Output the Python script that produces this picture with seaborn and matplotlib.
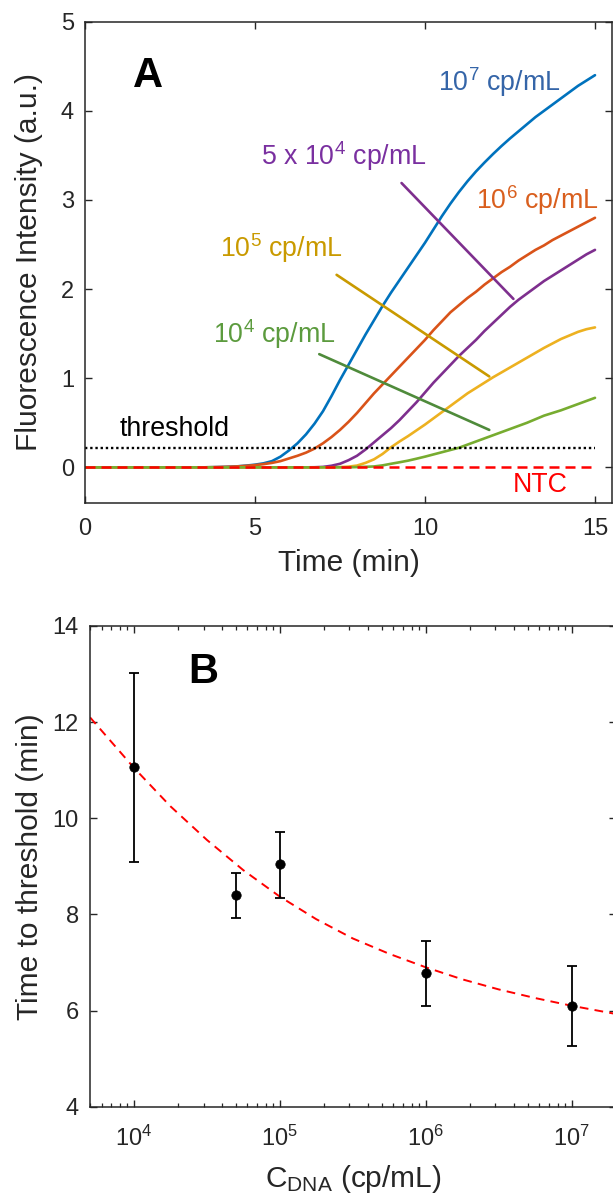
import numpy as np
import pandas as pd
import matplotlib
matplotlib.use("Agg")
import matplotlib.pyplot as plt
import seaborn as sns
from matplotlib.ticker import LogLocator, FixedLocator, NullFormatter

# ---------------- data: panel A (fluorescence vs time) ----------------
time_min = [0.0, 0.25, 0.5, 0.75, 1.0, 1.25, 1.5, 1.75, 2.0, 2.25, 2.5, 2.75,
            3.0, 3.25, 3.5, 3.75, 4.0, 4.25, 4.5, 4.75, 5.0, 5.25, 5.5, 5.75,
            6.0, 6.25, 6.5, 6.75, 7.0, 7.25, 7.5, 7.75, 8.0, 8.25, 8.5, 8.75,
            9.0, 9.25, 9.5, 9.75, 10.0, 10.25, 10.5, 10.75, 11.0, 11.25, 11.5,
            11.75, 12.0, 12.25, 12.5, 12.75, 13.0, 13.25, 13.5, 13.75, 14.0,
            14.25, 14.5, 14.75, 15.0]

f_1e7 = [0, 0, 0, 0, 0, 0, 0, 0, 0, 0, 0, 0, 0, 0, 0,
         0.002, 0.004, 0.007, 0.012, 0.02, 0.03, 0.045, 0.07, 0.12, 0.19, 0.27,
         0.37, 0.49, 0.63, 0.80, 0.98, 1.15, 1.32, 1.49, 1.65, 1.81, 1.96, 2.10,
         2.24, 2.38, 2.52, 2.67, 2.82, 2.96, 3.09, 3.21, 3.32, 3.42, 3.515, 3.605,
         3.69, 3.77, 3.85, 3.93, 4.00, 4.07, 4.14, 4.21, 4.28, 4.34, 4.40]
f_1e6 = [0, 0, 0, 0, 0, 0, 0, 0, 0, 0, 0, 0, 0, 0, 0,
         0.002, 0.004, 0.007, 0.011, 0.017, 0.025, 0.036, 0.05, 0.07, 0.10, 0.13,
         0.165, 0.21, 0.27, 0.34, 0.42, 0.51, 0.61, 0.72, 0.83, 0.93, 1.03, 1.13,
         1.23, 1.33, 1.43, 1.54, 1.64, 1.74, 1.82, 1.90, 1.97, 2.05, 2.12, 2.19,
         2.25, 2.32, 2.38, 2.44, 2.49, 2.55, 2.60, 2.65, 2.70, 2.75, 2.80]
f_5e4 = [0, 0, 0, 0, 0, 0, 0, 0, 0, 0, 0, 0, 0, 0, 0, 0, 0, 0, 0, 0, 0, 0, 0, 0,
         0, 0, 0,
         0.001, 0.005, 0.018, 0.04, 0.08, 0.13, 0.20, 0.28, 0.36, 0.44, 0.53,
         0.63, 0.73, 0.84, 0.95, 1.05, 1.15, 1.25, 1.34, 1.43, 1.53, 1.62, 1.71,
         1.80, 1.88, 1.95, 2.02, 2.09, 2.15, 2.21, 2.27, 2.33, 2.39, 2.44]
f_1e5 = [0, 0, 0, 0, 0, 0, 0, 0, 0, 0, 0, 0, 0, 0, 0, 0, 0, 0, 0, 0, 0, 0, 0, 0,
         0, 0, 0, 0, 0, 0,
         0.003, 0.008, 0.02, 0.05, 0.09, 0.15, 0.225, 0.29, 0.35, 0.415, 0.48,
         0.55, 0.62, 0.69, 0.76, 0.83, 0.89, 0.95, 1.01, 1.065, 1.12, 1.175,
         1.23, 1.285, 1.34, 1.39, 1.44, 1.48, 1.52, 1.55, 1.57]
f_1e4 = [0, 0, 0, 0, 0, 0, 0, 0, 0, 0, 0, 0, 0, 0, 0, 0, 0, 0, 0, 0, 0, 0, 0, 0,
         0, 0, 0, 0, 0, 0, 0, 0,
         0.003, 0.006, 0.01, 0.022, 0.04, 0.057, 0.075, 0.097, 0.12, 0.145,
         0.17, 0.195, 0.22, 0.255, 0.29, 0.325, 0.36, 0.395, 0.43, 0.465, 0.50,
         0.54, 0.58, 0.61, 0.64, 0.675, 0.71, 0.745, 0.78]

series_names = ["1e7", "1e6", "5e4", "1e5", "1e4"]
series_colors = ["#0072BD", "#D95319", "#7E2F8E", "#EDB120", "#77AC30"]

threshold_value = 0.22
ntc_value = 0.0
line_span = [0.0, 15.0]

# pointer lines (start, end) in data coordinates
ptr_5e4_x = [9.31, 12.60]
ptr_5e4_y = [3.19, 1.89]
ptr_1e5_x = [7.40, 11.89]
ptr_1e5_y = [2.16, 1.02]
ptr_1e4_x = [6.89, 11.89]
ptr_1e4_y = [1.27, 0.42]

# ---------------- data: panel B (time to threshold) ----------------
conc = [1e4, 5e4, 1e5, 1e6, 1e7]
ttt = [11.07, 8.40, 9.04, 6.79, 6.10]
ttt_low = [9.09, 7.92, 8.34, 6.10, 5.26]
ttt_high = [13.03, 8.87, 9.71, 7.44, 6.92]

fit_log_conc = [3.699, 4.0, 4.25, 4.5, 4.75, 5.0, 5.25, 5.5, 5.75, 6.0, 6.25,
                6.5, 6.75, 7.0, 7.301]
fit_ttt = [12.10, 11.05, 10.25, 9.55, 8.92, 8.37, 7.90, 7.50, 7.18, 6.90, 6.65,
           6.44, 6.26, 6.10, 5.93]

# ---------------- style ----------------
sns.set_style("ticks")
plt.rcParams["font.family"] = ["Liberation Sans", "DejaVu Sans"]
plt.rcParams["mathtext.fontset"] = "custom"
plt.rcParams["mathtext.rm"] = "Liberation Sans"
plt.rcParams["mathtext.it"] = "Liberation Sans:italic"
plt.rcParams["mathtext.bf"] = "Liberation Sans:bold"

AX_COLOR = "#262626"
W, H = 613, 1194
fig = plt.figure(figsize=(W / 100, H / 100), dpi=100)
fig.patch.set_facecolor("white")

axA = fig.add_axes([85 / W, 1 - 503 / H, (612 - 85) / W, (503 - 21.7) / H])
axB = fig.add_axes([90 / W, 1 - 1106.7 / H, (615.6 - 90) / W, (1106.7 - 626) / H])

# ---------------- panel A ----------------
rows = []
for name, vals in zip(series_names, [f_1e7, f_1e6, f_5e4, f_1e5, f_1e4]):
    for t, v in zip(time_min, vals):
        rows.append({"time": t, "value": v, "series": name})
dfA = pd.DataFrame(rows)

sns.lineplot(data=dfA, x="time", y="value", hue="series", hue_order=series_names,
             palette=dict(zip(series_names, series_colors)), linewidth=1.9,
             legend=False, ax=axA, sort=False, estimator=None)

sns.lineplot(x=line_span, y=[threshold_value, threshold_value], ax=axA,
             color="black", linewidth=1.7, linestyle=(0, (1, 1.2)))
sns.lineplot(x=line_span, y=[ntc_value, ntc_value], ax=axA,
             color="#FF0000", linewidth=1.8, linestyle=(0, (4, 2.4)))

sns.lineplot(x=ptr_5e4_x, y=ptr_5e4_y, ax=axA, color="#7E2F8E", linewidth=1.9)
sns.lineplot(x=ptr_1e5_x, y=ptr_1e5_y, ax=axA, color="#C99A00", linewidth=1.9)
sns.lineplot(x=ptr_1e4_x, y=ptr_1e4_y, ax=axA, color="#4F8B3B", linewidth=1.9)

ann = 19.3
axA.text(12.2, 4.32, "$10^{7}$ cp/mL", color="#3565A8", fontsize=ann, ha="center", va="center")
axA.text(13.3, 3.0, "$10^{6}$ cp/mL", color="#D95F1E", fontsize=ann, ha="center", va="center")
axA.text(7.6, 3.49, "5 x $10^{4}$ cp/mL", color="#7A30A0", fontsize=ann, ha="center", va="center")
axA.text(5.78, 2.46, "$10^{5}$ cp/mL", color="#C99A00", fontsize=ann, ha="center", va="center")
axA.text(5.58, 1.49, "$10^{4}$ cp/mL", color="#5C9B3E", fontsize=ann, ha="center", va="center")
axA.text(2.65, 0.43, "threshold", color="black", fontsize=ann, ha="center", va="center")
axA.text(13.4, -0.2, "NTC", color="#FF0000", fontsize=ann, ha="center", va="center")
axA.text(1.85, 4.39, "A", color="black", fontsize=30, fontweight="bold", ha="center", va="center")

axA.set_xlim(0, 15.5)
axA.set_ylim(-0.4, 5)
axA.xaxis.set_major_locator(FixedLocator([0, 5, 10, 15]))
axA.yaxis.set_major_locator(FixedLocator([0, 1, 2, 3, 4, 5]))
axA.set_xlabel("Time (min)", fontsize=21.5, labelpad=7)
axA.set_ylabel("Fluorescence Intensity (a.u.)", fontsize=21.5, labelpad=12.5)

# ---------------- panel B ----------------
dfB = pd.DataFrame({"conc": conc, "ttt": ttt})
fit_df = pd.DataFrame({"conc": [10 ** v for v in fit_log_conc], "ttt": fit_ttt})

sns.lineplot(data=fit_df, x="conc", y="ttt", ax=axB, color="#FF0000",
             linewidth=1.4, linestyle=(0, (4.5, 3.2)), sort=False, estimator=None)
yerr = np.array([np.array(ttt) - np.array(ttt_low), np.array(ttt_high) - np.array(ttt)])
axB.errorbar(conc, ttt, yerr=yerr, fmt="none", ecolor="black", elinewidth=1.3,
             capsize=3.3, capthick=1.3)
sns.scatterplot(data=dfB, x="conc", y="ttt", ax=axB, color="black", s=46,
                edgecolor="black", linewidth=0.5, zorder=5)

axB.text(3e4, 13.05, "B", color="black", fontsize=30, fontweight="bold", ha="center", va="center")

axB.set_xscale("log")
axB.set_xlim(5e3, 2e7)
axB.set_ylim(4, 14)
axB.xaxis.set_major_locator(LogLocator(base=10, numticks=10))
axB.xaxis.set_minor_locator(LogLocator(base=10, subs=np.arange(2, 10), numticks=20))
axB.xaxis.set_minor_formatter(NullFormatter())
axB.yaxis.set_major_locator(FixedLocator([4, 6, 8, 10, 12, 14]))
axB.set_xlabel("C$_{\\mathrm{DNA}}$ (cp/mL)", fontsize=21.5, labelpad=8.5)
axB.set_ylabel("Time to threshold (min)", fontsize=21.5, labelpad=6)

for ax in (axA, axB):
    for sp in ax.spines.values():
        sp.set_visible(True)
        sp.set_color(AX_COLOR)
        sp.set_linewidth(1.1)
    ax.tick_params(which="major", direction="in", top=True, right=True,
                   length=5, width=1.0, color=AX_COLOR, labelcolor=AX_COLOR,
                   labelsize=17, pad=8)
    ax.tick_params(which="minor", direction="in", top=True, right=True,
                   length=3, width=0.9, color=AX_COLOR)
    ax.set_facecolor("white")

axA.tick_params(axis="x", which="major", pad=10.5)
axB.tick_params(axis="x", which="major", pad=14)

fig.savefig("out.png", dpi=100, facecolor="white")
